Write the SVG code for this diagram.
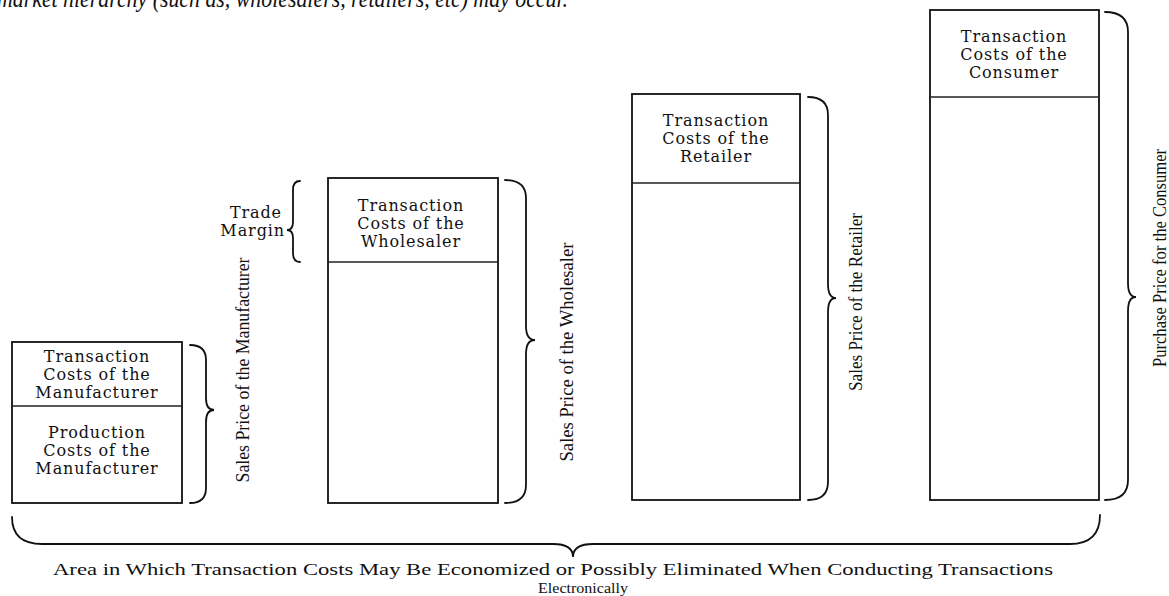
<svg xmlns="http://www.w3.org/2000/svg" width="1169" height="596" viewBox="0 0 1169 596">
<style>
.box{fill:#fff;stroke:#111;stroke-width:1.8}
.div{stroke:#222;stroke-width:1.3}
.br{fill:none;stroke:#111;stroke-width:1.8;stroke-linecap:round}
.lbl{font-family:"DejaVu Serif","Liberation Serif",serif;font-size:16px;letter-spacing:0.9px;fill:#111;text-anchor:middle}
.vt{font-family:"Liberation Serif",serif;font-size:19px;fill:#111;text-anchor:middle}
.top{font-family:"Liberation Serif",serif;font-style:italic;font-size:25px;fill:#111}
.cap{font-family:"Liberation Serif",serif;font-size:17px;fill:#111;text-anchor:middle}
</style>
<rect width="1169" height="596" fill="#fff"/>
<text class="top" x="-3" y="7" textLength="571" lengthAdjust="spacingAndGlyphs">market hierarchy (such as, wholesalers, retailers, etc) may occur.</text>

<g id="manufacturer">
<rect class="box" x="12" y="342" width="170" height="161"/>
<line class="div" x1="12" y1="406" x2="182" y2="406"/>
<text class="lbl" x="97" y="362">Transaction</text>
<text class="lbl" x="97" y="380">Costs of the</text>
<text class="lbl" x="97" y="398">Manufacturer</text>
<text class="lbl" x="97" y="438">Production</text>
<text class="lbl" x="97" y="456">Costs of the</text>
<text class="lbl" x="97" y="474">Manufacturer</text>
</g>

<g id="wholesaler">
<rect class="box" x="328" y="178" width="170" height="325"/>
<line class="div" x1="328" y1="262" x2="498" y2="262"/>
<text class="lbl" x="411" y="211">Transaction</text>
<text class="lbl" x="411" y="229">Costs of the</text>
<text class="lbl" x="411" y="247">Wholesaler</text>
</g>

<g id="trade-margin">
<text class="lbl" x="282" y="218" style="text-anchor:end">Trade</text>
<text class="lbl" x="285" y="236" style="text-anchor:end">Margin</text>
</g>

<g id="retailer">
<rect class="box" x="632" y="94" width="168" height="406"/>
<line class="div" x1="632" y1="183" x2="800" y2="183"/>
<text class="lbl" x="716" y="126">Transaction</text>
<text class="lbl" x="716" y="144">Costs of the</text>
<text class="lbl" x="716" y="162">Retailer</text>
</g>

<g id="consumer">
<rect class="box" x="930" y="10" width="169" height="490"/>
<line class="div" x1="930" y1="97" x2="1099" y2="97"/>
<text class="lbl" x="1014" y="42">Transaction</text>
<text class="lbl" x="1014" y="60">Costs of the</text>
<text class="lbl" x="1014" y="78">Consumer</text>
</g>

<g id="connectors">
<path class="br" d="M190,345 Q206,345 206,360 L206,398 Q206,410 214,410 Q206,410 206,422 L206,488 Q206,503 190,503"/>
<path class="br" d="M505,180 Q526,180 526,198 L526,326 Q526,340 535,340 Q526,340 526,354 L526,485 Q526,503 505,503"/>
<path class="br" d="M808,97 Q828,97 828,115 L828,284 Q828,298 836,298 Q828,298 828,312 L828,482 Q828,500 808,500"/>
<path class="br" d="M1105,12 Q1128,12 1128,32 L1128,283 Q1128,297 1136,297 Q1128,297 1128,311 L1128,480 Q1128,500 1105,500"/>
<path class="br" d="M300,181 Q293,181 293,190 L293,222 Q293,230 287,230 Q293,230 293,238 L293,253 Q293,262 300,262"/>
<path class="br" d="M12,517 Q12,544 42,544 L553,544 Q573,544 573,557 Q573,544 593,544 L1070,544 Q1100,544 1100,515"/>
</g>

<g id="vertical-labels">
<text class="vt" transform="translate(249,370) rotate(-90)" textLength="225" lengthAdjust="spacingAndGlyphs">Sales Price of the Manufacturer</text>
<text class="vt" transform="translate(573,352) rotate(-90)" textLength="219" lengthAdjust="spacingAndGlyphs">Sales Price of the Wholesaler</text>
<text class="vt" transform="translate(862,302) rotate(-90)" textLength="178" lengthAdjust="spacingAndGlyphs">Sales Price of the Retailer</text>
<text class="vt" transform="translate(1166,258) rotate(-90)" textLength="218" lengthAdjust="spacingAndGlyphs">Purchase Price for the Consumer</text>
</g>

<g id="caption">
<text class="cap" x="553" y="575" textLength="1000" lengthAdjust="spacingAndGlyphs">Area in Which Transaction Costs May Be Economized or Possibly Eliminated When Conducting Transactions</text>
<text class="cap" x="583" y="593" style="font-size:15px" textLength="90" lengthAdjust="spacingAndGlyphs">Electronically</text>
</g>
</svg>
